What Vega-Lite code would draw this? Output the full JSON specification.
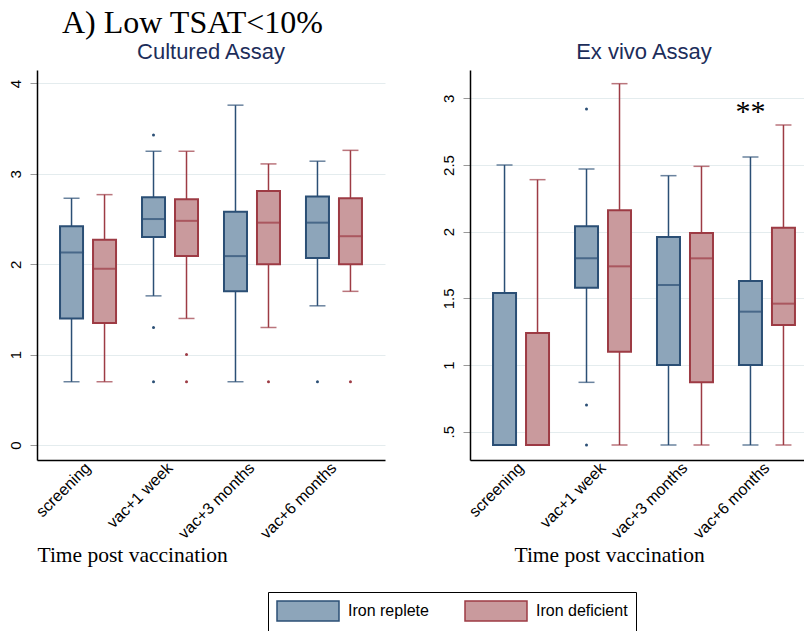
{
  "$schema": "https://vega.github.io/schema/vega-lite/v6.json",
  "background": "white",
  "padding": {"left": 8, "top": 7, "right": 0, "bottom": 0},
  "title": {"text": "A) Low TSAT<10%", "anchor": "start", "font": "Liberation Serif", "fontSize": 32, "fontWeight": "normal", "color": "black", "dx": 54, "offset": 1},
  "datasets": {
    "cultured": [
      {"time": "screening", "group": "Iron replete", "lo": 0.70, "q1": 1.40, "med": 2.13, "q3": 2.42, "hi": 2.73},
      {"time": "screening", "group": "Iron deficient", "lo": 0.70, "q1": 1.35, "med": 1.95, "q3": 2.27, "hi": 2.77},
      {"time": "vac+1 week", "group": "Iron replete", "lo": 1.65, "q1": 2.30, "med": 2.50, "q3": 2.74, "hi": 3.25},
      {"time": "vac+1 week", "group": "Iron deficient", "lo": 1.40, "q1": 2.09, "med": 2.48, "q3": 2.72, "hi": 3.25},
      {"time": "vac+3 months", "group": "Iron replete", "lo": 0.70, "q1": 1.70, "med": 2.09, "q3": 2.58, "hi": 3.76},
      {"time": "vac+3 months", "group": "Iron deficient", "lo": 1.30, "q1": 2.00, "med": 2.46, "q3": 2.81, "hi": 3.11},
      {"time": "vac+6 months", "group": "Iron replete", "lo": 1.54, "q1": 2.07, "med": 2.46, "q3": 2.75, "hi": 3.14},
      {"time": "vac+6 months", "group": "Iron deficient", "lo": 1.70, "q1": 2.00, "med": 2.31, "q3": 2.73, "hi": 3.26}
    ],
    "cultured_out": [
      {"time": "vac+1 week", "group": "Iron replete", "value": 3.43},
      {"time": "vac+1 week", "group": "Iron replete", "value": 1.30},
      {"time": "vac+1 week", "group": "Iron replete", "value": 0.70},
      {"time": "vac+1 week", "group": "Iron deficient", "value": 1.00},
      {"time": "vac+1 week", "group": "Iron deficient", "value": 0.70},
      {"time": "vac+3 months", "group": "Iron deficient", "value": 0.70},
      {"time": "vac+6 months", "group": "Iron replete", "value": 0.70},
      {"time": "vac+6 months", "group": "Iron deficient", "value": 0.70}
    ],
    "exvivo": [
      {"time": "screening", "group": "Iron replete", "lo": 0.40, "q1": 0.40, "med": 0.40, "q3": 1.54, "hi": 2.50},
      {"time": "screening", "group": "Iron deficient", "lo": 0.40, "q1": 0.40, "med": 0.40, "q3": 1.24, "hi": 2.39},
      {"time": "vac+1 week", "group": "Iron replete", "lo": 0.87, "q1": 1.58, "med": 1.80, "q3": 2.04, "hi": 2.47},
      {"time": "vac+1 week", "group": "Iron deficient", "lo": 0.40, "q1": 1.10, "med": 1.74, "q3": 2.16, "hi": 3.11},
      {"time": "vac+3 months", "group": "Iron replete", "lo": 0.40, "q1": 1.00, "med": 1.60, "q3": 1.96, "hi": 2.42},
      {"time": "vac+3 months", "group": "Iron deficient", "lo": 0.40, "q1": 0.87, "med": 1.80, "q3": 1.99, "hi": 2.49},
      {"time": "vac+6 months", "group": "Iron replete", "lo": 0.40, "q1": 1.00, "med": 1.40, "q3": 1.63, "hi": 2.56},
      {"time": "vac+6 months", "group": "Iron deficient", "lo": 0.40, "q1": 1.30, "med": 1.46, "q3": 2.03, "hi": 2.80}
    ],
    "exvivo_out": [
      {"time": "vac+1 week", "group": "Iron replete", "value": 2.92},
      {"time": "vac+1 week", "group": "Iron replete", "value": 0.70},
      {"time": "vac+1 week", "group": "Iron replete", "value": 0.40}
    ],
    "exvivo_note": [
      {"time": "vac+6 months", "group": "Iron replete", "value": 2.90, "label": "**"}
    ]
  },
  "config": {
    "view": {"stroke": null},
    "concat": {"spacing": 56},
    "axis": {"grid": false, "domainColor": "black", "domainWidth": 1.5, "labelColor": "black", "labelFont": "Liberation Sans", "labelFontSize": 15, "tickColor": "#999999", "tickSize": 7, "tickWidth": 1},
    "axisX": {"ticks": false, "labelAngle": -45, "labelAlign": "right", "labelBaseline": "middle", "labelPadding": 5, "labelFontSize": 16, "titleFont": "Liberation Serif", "titleFontSize": 21.5, "titleFontWeight": "normal", "titleColor": "black", "titleAnchor": "start", "titleAlign": "left", "titleBaseline": "alphabetic", "titleY": 101},
    "axisY": {"grid": true, "gridColor": "#e4ecee", "gridWidth": 1, "labelAngle": -90, "labelAlign": "center", "labelBaseline": "bottom", "labelPadding": 7, "title": null},
    "title": {"font": "Liberation Sans", "fontSize": 22, "fontWeight": "normal", "color": "#1c2d5a", "offset": 6},
    "legend": {"orient": "none", "legendX": 231, "legendY": 522, "direction": "horizontal", "strokeColor": "black", "padding": 8, "symbolType": "M-1,-1H5.2V1H-1Z", "symbolSize": 400, "symbolStrokeWidth": 1.5, "symbolOpacity": 1, "labelFont": "Liberation Sans", "labelFontSize": 16, "labelColor": "black", "labelOffset": 50, "columnPadding": 33, "labelLimit": 300}
  },
  "hconcat": [
    {
      "width": 348,
      "height": 390,
      "title": {"text": "Cultured Assay"},
      "layer": [
        {
          "data": {"name": "cultured"},
          "mark": {"type": "rule", "strokeWidth": 1.5},
          "encoding": {
            "x": {"field": "time", "type": "nominal", "sort": ["screening", "vac+1 week", "vac+3 months", "vac+6 months"], "scale": {"paddingInner": 0.195, "paddingOuter": 0.22}, "axis": {"title": "Time post vaccination", "titleX": 0}},
            "xOffset": {"field": "group", "type": "nominal", "sort": ["Iron replete", "Iron deficient"], "scale": {"paddingInner": 0, "paddingOuter": 0}},
            "y": {"field": "lo", "type": "quantitative", "scale": {"domain": [-0.166, 4.149], "nice": false, "zero": false}, "axis": {"values": [0, 1, 2, 3, 4], "labelExpr": "format(datum.value, '~g')"}},
            "y2": {"field": "hi"},
            "color": {"field": "group", "type": "nominal", "scale": {"domain": ["Iron deficient", "Iron replete"], "range": ["#9d3b44", "#2b4f75"]}, "legend": null}
          }
        },
        {
          "data": {"name": "cultured"},
          "mark": {"type": "bar", "size": 23, "strokeWidth": 2, "fillOpacity": 1},
          "encoding": {
            "x": {"field": "time", "type": "nominal", "sort": ["screening", "vac+1 week", "vac+3 months", "vac+6 months"]},
            "xOffset": {"field": "group", "type": "nominal", "sort": ["Iron replete", "Iron deficient"]},
            "y": {"field": "q1", "type": "quantitative"},
            "y2": {"field": "q3"},
            "fill": {"field": "group", "type": "nominal", "title": null, "scale": {"domain": ["Iron replete", "Iron deficient"], "range": ["#8da5ba", "#c99a9d"]}},
            "stroke": {"field": "group", "type": "nominal", "title": null, "scale": {"domain": ["Iron replete", "Iron deficient"], "range": ["#2b4f75", "#9d3b44"]}}
          }
        },
        {
          "data": {"name": "cultured"},
          "mark": {"type": "tick", "size": 25, "thickness": 2},
          "encoding": {
            "x": {"field": "time", "type": "nominal", "sort": ["screening", "vac+1 week", "vac+3 months", "vac+6 months"]},
            "xOffset": {"field": "group", "type": "nominal", "sort": ["Iron replete", "Iron deficient"]},
            "y": {"field": "med", "type": "quantitative"},
            "color": {"field": "group", "type": "nominal", "legend": null}
          }
        },
        {
          "data": {"name": "cultured"},
          "mark": {"type": "tick", "size": 16, "thickness": 1.5},
          "encoding": {
            "x": {"field": "time", "type": "nominal", "sort": ["screening", "vac+1 week", "vac+3 months", "vac+6 months"]},
            "xOffset": {"field": "group", "type": "nominal", "sort": ["Iron replete", "Iron deficient"]},
            "y": {"field": "lo", "type": "quantitative"},
            "color": {"field": "group", "type": "nominal", "legend": null}
          }
        },
        {
          "data": {"name": "cultured"},
          "mark": {"type": "tick", "size": 16, "thickness": 1.5},
          "encoding": {
            "x": {"field": "time", "type": "nominal", "sort": ["screening", "vac+1 week", "vac+3 months", "vac+6 months"]},
            "xOffset": {"field": "group", "type": "nominal", "sort": ["Iron replete", "Iron deficient"]},
            "y": {"field": "hi", "type": "quantitative"},
            "color": {"field": "group", "type": "nominal", "legend": null}
          }
        },
        {
          "data": {"name": "cultured_out"},
          "mark": {"type": "point", "filled": true, "size": 9, "opacity": 1},
          "encoding": {
            "x": {"field": "time", "type": "nominal", "sort": ["screening", "vac+1 week", "vac+3 months", "vac+6 months"]},
            "xOffset": {"field": "group", "type": "nominal", "sort": ["Iron replete", "Iron deficient"]},
            "y": {"field": "value", "type": "quantitative"},
            "color": {"field": "group", "type": "nominal", "legend": null}
          }
        }
      ]
    },
    {
      "width": 348,
      "height": 390,
      "title": {"text": "Ex vivo Assay"},
      "layer": [
        {
          "data": {"name": "exvivo"},
          "mark": {"type": "rule", "strokeWidth": 1.5},
          "encoding": {
            "x": {"field": "time", "type": "nominal", "sort": ["screening", "vac+1 week", "vac+3 months", "vac+6 months"], "scale": {"paddingInner": 0.195, "paddingOuter": 0.22}, "axis": {"title": "Time post vaccination", "titleX": 44}},
            "xOffset": {"field": "group", "type": "nominal", "sort": ["Iron replete", "Iron deficient"], "scale": {"paddingInner": 0, "paddingOuter": 0}},
            "y": {"field": "lo", "type": "quantitative", "scale": {"domain": [0.2875, 3.2125], "nice": false, "zero": false}, "axis": {"values": [0.5, 1, 1.5, 2, 2.5, 3], "labelExpr": "datum.value == 0.5 ? '.5' : format(datum.value, '~g')"}},
            "y2": {"field": "hi"},
            "color": {"field": "group", "type": "nominal", "scale": {"domain": ["Iron deficient", "Iron replete"], "range": ["#9d3b44", "#2b4f75"]}, "legend": null}
          }
        },
        {
          "data": {"name": "exvivo"},
          "mark": {"type": "bar", "size": 23, "strokeWidth": 2, "fillOpacity": 1},
          "encoding": {
            "x": {"field": "time", "type": "nominal", "sort": ["screening", "vac+1 week", "vac+3 months", "vac+6 months"]},
            "xOffset": {"field": "group", "type": "nominal", "sort": ["Iron replete", "Iron deficient"]},
            "y": {"field": "q1", "type": "quantitative"},
            "y2": {"field": "q3"},
            "fill": {"field": "group", "type": "nominal", "title": null, "scale": {"domain": ["Iron replete", "Iron deficient"], "range": ["#8da5ba", "#c99a9d"]}},
            "stroke": {"field": "group", "type": "nominal", "title": null, "scale": {"domain": ["Iron replete", "Iron deficient"], "range": ["#2b4f75", "#9d3b44"]}}
          }
        },
        {
          "data": {"name": "exvivo"},
          "mark": {"type": "tick", "size": 25, "thickness": 2},
          "encoding": {
            "x": {"field": "time", "type": "nominal", "sort": ["screening", "vac+1 week", "vac+3 months", "vac+6 months"]},
            "xOffset": {"field": "group", "type": "nominal", "sort": ["Iron replete", "Iron deficient"]},
            "y": {"field": "med", "type": "quantitative"},
            "color": {"field": "group", "type": "nominal", "legend": null}
          }
        },
        {
          "data": {"name": "exvivo"},
          "mark": {"type": "tick", "size": 16, "thickness": 1.5},
          "encoding": {
            "x": {"field": "time", "type": "nominal", "sort": ["screening", "vac+1 week", "vac+3 months", "vac+6 months"]},
            "xOffset": {"field": "group", "type": "nominal", "sort": ["Iron replete", "Iron deficient"]},
            "y": {"field": "lo", "type": "quantitative"},
            "color": {"field": "group", "type": "nominal", "legend": null}
          }
        },
        {
          "data": {"name": "exvivo"},
          "mark": {"type": "tick", "size": 16, "thickness": 1.5},
          "encoding": {
            "x": {"field": "time", "type": "nominal", "sort": ["screening", "vac+1 week", "vac+3 months", "vac+6 months"]},
            "xOffset": {"field": "group", "type": "nominal", "sort": ["Iron replete", "Iron deficient"]},
            "y": {"field": "hi", "type": "quantitative"},
            "color": {"field": "group", "type": "nominal", "legend": null}
          }
        },
        {
          "data": {"name": "exvivo_out"},
          "mark": {"type": "point", "filled": true, "size": 9, "opacity": 1},
          "encoding": {
            "x": {"field": "time", "type": "nominal", "sort": ["screening", "vac+1 week", "vac+3 months", "vac+6 months"]},
            "xOffset": {"field": "group", "type": "nominal", "sort": ["Iron replete", "Iron deficient"]},
            "y": {"field": "value", "type": "quantitative"},
            "color": {"field": "group", "type": "nominal", "legend": null}
          }
        },
        {
          "data": {"name": "exvivo_note"},
          "mark": {"type": "text", "font": "Liberation Serif", "fontSize": 30, "color": "black", "baseline": "middle"},
          "encoding": {
            "x": {"field": "time", "type": "nominal", "sort": ["screening", "vac+1 week", "vac+3 months", "vac+6 months"]},
            "xOffset": {"field": "group", "type": "nominal", "sort": ["Iron replete", "Iron deficient"]},
            "y": {"field": "value", "type": "quantitative"},
            "text": {"field": "label"}
          }
        }
      ]
    }
  ]
}
